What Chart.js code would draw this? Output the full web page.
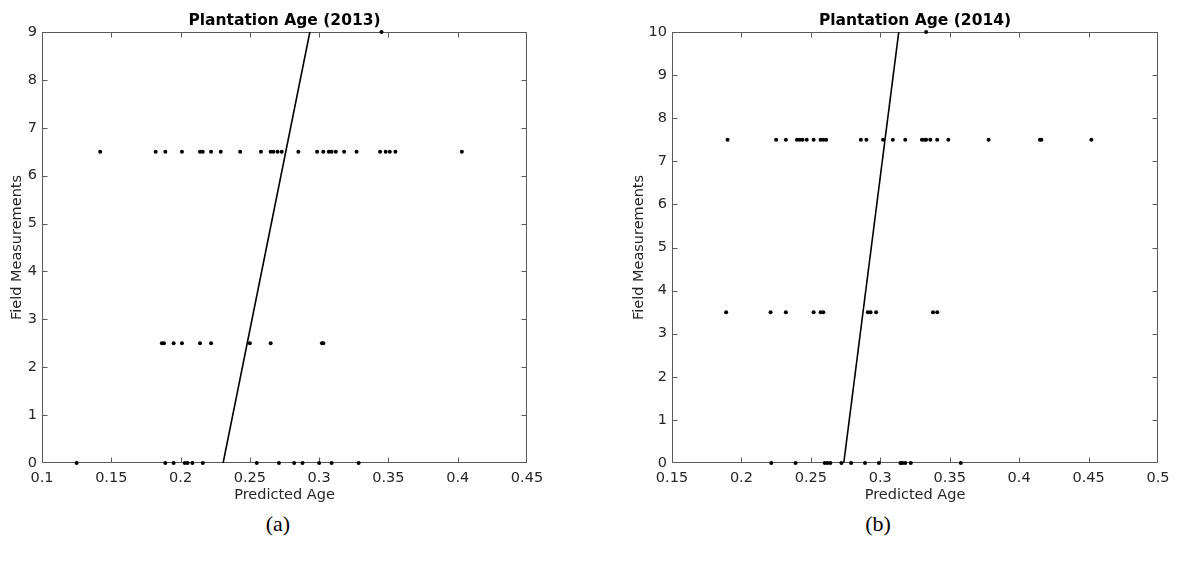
<!DOCTYPE html>
<html>
<head>
<meta charset="utf-8">
<script src="https://cdn.jsdelivr.net/npm/chart.js@4/dist/chart.umd.min.js"></script>
<style>
  body { margin: 0; background: #fff; width: 1185px; height: 564px; overflow: hidden; position: relative; }
  .panel { position: absolute; top: 0; }
  .cap { position: absolute; top: 511px; width: 80px; text-align: center;
         font-family: "Liberation Serif", serif; font-size: 22px; color: #000; }
</style>
</head>
<body>
<div class="panel" style="left:0px"><canvas id="chartA" width="556" height="505"></canvas></div>
<div class="panel" style="left:620px"><canvas id="chartB" width="565" height="505"></canvas></div>
<div class="cap" style="left:238px">(a)</div>
<div class="cap" style="left:838px">(b)</div>
<script>
// ---- (a) 2013 ----
const levelsA = [0, 2.5, 6.5, 9];
const predA_0 = [0.125, 0.189, 0.195, 0.203, 0.205, 0.2085, 0.216, 0.255, 0.271, 0.282, 0.288, 0.300, 0.309, 0.3285];
const predA_25 = [0.1865, 0.188, 0.195, 0.201, 0.214, 0.222, 0.250, 0.265, 0.302, 0.303];
const predA_65 = [0.142, 0.182, 0.189, 0.201, 0.214, 0.216, 0.222, 0.229, 0.243, 0.258, 0.265, 0.267, 0.270,
  0.273, 0.285, 0.2985, 0.303, 0.307, 0.309, 0.312, 0.318, 0.327, 0.344, 0.348, 0.351, 0.355, 0.403];
const predA_9 = [0.345];
const fitA_x = [0.2307, 0.2933];
const fitA_y = [0, 9];

// ---- (b) 2014 ----
const levelsB = [0, 3.5, 7.5, 10];
const predB_0 = [0.2215, 0.239, 0.260, 0.262, 0.264, 0.272, 0.279, 0.289, 0.299, 0.3145, 0.316, 0.318, 0.322, 0.358];
const predB_35 = [0.189, 0.221, 0.232, 0.252, 0.257, 0.259, 0.291, 0.293, 0.297, 0.338, 0.341];
const predB_75 = [0.190, 0.225, 0.232, 0.240, 0.242, 0.244, 0.247, 0.252, 0.257, 0.259, 0.261, 0.286, 0.290,
  0.302, 0.309, 0.318, 0.330, 0.332, 0.333, 0.336, 0.341, 0.349, 0.378, 0.415, 0.416, 0.452];
const predB_10 = [0.333];
const fitB_x = [0.2737, 0.3133];
const fitB_y = [0, 10];

const INK = '#262626';
const FONT = 'DejaVu Sans';

// matlab style box with inward ticks
const matlabFrame = {
  id: 'matlabFrame',
  beforeDatasetsDraw(chart) {
    const { ctx, chartArea: a, scales } = chart;
    const L = Math.round(a.left) + 0.5, R = Math.round(a.right) - 0.5;
    const T = Math.round(a.top) + 0.5, B = Math.round(a.bottom) - 0.5;
    const clampX = v => Math.min(R, Math.max(L, v));
    const clampY = v => Math.min(B, Math.max(T, v));
    ctx.save();
    ctx.strokeStyle = '#5a5a5a';
    ctx.lineWidth = 1;
    ctx.strokeRect(L, T, R - L, B - T);
    ctx.beginPath();
    scales.x.ticks.forEach(t => {
      const px = clampX(Math.round(scales.x.getPixelForValue(t.value)) + 0.5);
      ctx.moveTo(px, B); ctx.lineTo(px, B - 5);
      ctx.moveTo(px, T); ctx.lineTo(px, T + 5);
    });
    scales.y.ticks.forEach(t => {
      const py = clampY(Math.round(scales.y.getPixelForValue(t.value)) + 0.5);
      ctx.moveTo(L, py); ctx.lineTo(L + 5, py);
      ctx.moveTo(R, py); ctx.lineTo(R - 5, py);
    });
    ctx.stroke();
    ctx.restore();
  }
};

function dots(xs, level) {
  return {
    type: 'scatter',
    data: xs.map(v => ({ x: v, y: level })),
    pointRadius: 2,
    pointHoverRadius: 2,
    backgroundColor: '#000',
    borderWidth: 0,
    clip: false
  };
}

function makeChart(id, title, groups, levels, fitX, fitY, xMin, xMax, yMax, yWidth, padRight, yTitlePad) {
  const datasets = groups.map((g, i) => dots(g, levels[i]));
  datasets.push({
    type: 'line',
    data: fitX.map((v, i) => ({ x: v, y: fitY[i] })),
    borderColor: '#000',
    borderWidth: 1.6,
    pointRadius: 0,
    fill: false
  });
  return new Chart(document.getElementById(id), {
    type: 'scatter',
    data: { datasets },
    options: {
      responsive: false,
      animation: false,
      devicePixelRatio: 1,
      layout: { padding: { left: 0, right: padRight, top: 0, bottom: 0 } },
      plugins: { legend: { display: false }, title: { display: false }, tooltip: { enabled: false } },
      scales: {
        x: {
          type: 'linear', position: 'bottom', min: xMin, max: xMax,
          ticks: { stepSize: 0.05, padding: 7, color: INK, font: { family: FONT, size: 14.5 },
                   callback: v => String(parseFloat(v.toFixed(2))) },
          grid: { display: false, drawTicks: false },
          border: { display: false },
          title: { display: true, text: 'Predicted Age', color: INK,
                   font: { family: FONT, size: 14.5 }, padding: { top: 0, bottom: 1 } },
          afterFit: s => { s.height = 42; }
        },
        top: {
          type: 'linear', position: 'top', axis: 'x', min: xMin, max: xMax,
          ticks: { display: false },
          grid: { display: false, drawTicks: false },
          border: { display: false },
          title: { display: true, text: title, color: '#000',
                   font: { family: FONT, size: 15.5, weight: 'bold' }, padding: { top: 12, bottom: 0 } },
          afterFit: s => { s.height = 32; }
        },
        y: {
          type: 'linear', min: 0, max: yMax,
          ticks: { stepSize: 1, padding: 5, color: INK, font: { family: FONT, size: 14.5 } },
          grid: { display: false, drawTicks: false },
          border: { display: false },
          title: { display: true, text: 'Field Measurements', color: INK,
                   font: { family: FONT, size: 14.5 }, padding: { top: yTitlePad, bottom: 0 } },
          afterFit: s => { s.width = yWidth; }
        }
      }
    },
    plugins: [matlabFrame]
  });
}

makeChart('chartA', 'Plantation Age (2013)', [predA_0, predA_25, predA_65, predA_9], levelsA,
  fitA_x, fitA_y, 0.1, 0.45, 9, 42, 29, 9);
makeChart('chartB', 'Plantation Age (2014)', [predB_0, predB_35, predB_75, predB_10], levelsB,
  fitB_x, fitB_y, 0.15, 0.5, 10, 52, 27, 11);
</script>
</body>
</html>
